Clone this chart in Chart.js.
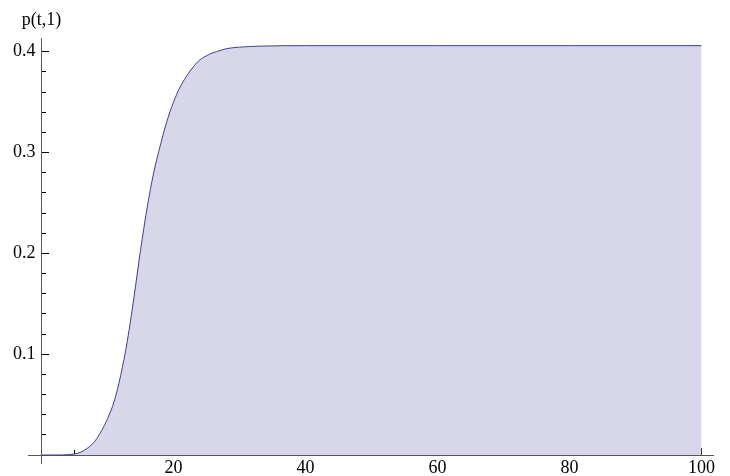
<!DOCTYPE html>
<html>
<head>
<meta charset="utf-8">
<script src="https://cdn.jsdelivr.net/npm/chart.js@4.4.0/dist/chart.umd.min.js"></script>
<style>
  body { margin: 0; background: #fff; }
  #wrap { width: 730px; height: 476px; }
</style>
</head>
<body>
<div id="wrap"><canvas id="plot"></canvas></div>
<script>
const tValues = [0, 2, 4, 5, 6, 7, 8, 9, 10, 11, 12, 13, 14, 15, 16, 17, 18, 19, 20, 21, 22, 23, 24, 25, 26, 27, 28, 30, 33, 40, 60, 80, 100];
const pValues = [0, 0, 0.0003, 0.001, 0.003, 0.007, 0.013, 0.023, 0.036, 0.053, 0.079, 0.113, 0.156, 0.203, 0.245, 0.280, 0.307, 0.331, 0.350, 0.365, 0.376, 0.385, 0.392, 0.396, 0.399, 0.401, 0.403, 0.4045, 0.4055, 0.406, 0.406, 0.406, 0.406];

const xMajorTicks = [20, 40, 60, 80, 100];
const xMinorTicks = [5, 10, 15, 20, 25, 30, 35, 40, 45, 50, 55, 60, 65, 70, 75, 80, 85, 90, 95, 100];
const yMajorTicks = [0.1, 0.2, 0.3, 0.4];
const yMinorTicks = [0.02, 0.04, 0.06, 0.08, 0.1, 0.12, 0.14, 0.16, 0.18, 0.2, 0.22, 0.24, 0.26, 0.28, 0.3, 0.32, 0.34, 0.36, 0.38, 0.4];
const yAxisLabel = 'p(t,1)';

const lineColor = 'rgb(61,61,153)';
const fillColor = 'rgb(215,215,233)';
const axisColor = 'rgb(85,85,85)';
const labelFont = { family: 'Liberation Serif', size: 18 };

const xRange = { min: -2.045, max: 101.74 };
const yRange = { min: -0.00793, max: 0.41359 };

function setTicks(list) {
  return function(scale) {
    scale.ticks = list.map(v => ({ value: v }));
  };
}

// axes sit on the origin, so they should not push the plot area around
function noSpace(scale) {
  if (scale.isHorizontal()) scale.height = 0; else scale.width = 0;
  scale.paddingTop = 0;
  scale.paddingBottom = 0;
  scale.paddingLeft = 0;
  scale.paddingRight = 0;
}

// label over the top of the y axis
const axisLabel = {
  id: 'axisLabel',
  afterDraw(chart) {
    let ctx = chart.ctx;
    let x0 = chart.scales.x.getPixelForValue(0);
    ctx.save();
    ctx.font = '18px "Liberation Serif"';
    ctx.fillStyle = '#000';
    ctx.textAlign = 'center';
    ctx.textBaseline = 'middle';
    ctx.fillText(yAxisLabel, x0, chart.chartArea.top - 18);
    ctx.restore();
  }
};

let ctx = document.getElementById('plot').getContext('2d');
let plot = new Chart(ctx, {
  type: 'line',
  data: {
    datasets: [{
      data: tValues.map((t, i) => ({ x: t, y: pValues[i] })),
      borderColor: lineColor,
      backgroundColor: fillColor,
      borderWidth: 1,
      fill: 'origin',
      pointRadius: 0,
      cubicInterpolationMode: 'monotone'
    }]
  },
  plugins: [axisLabel],
  options: {
    responsive: true,
    maintainAspectRatio: false,
    animation: false,
    layout: { padding: { left: 28, right: 17, top: 38, bottom: 13 } },
    plugins: {
      legend: { display: false },
      tooltip: { enabled: false }
    },
    scales: {
      x: {
        type: 'linear',
        min: xRange.min,
        max: xRange.max,
        position: { y: 0 },
        z: 1,
        afterBuildTicks: setTicks(xMajorTicks),
        afterFit: noSpace,
        border: { display: true, color: axisColor, width: 1 },
        grid: { drawOnChartArea: false, tickLength: -8, tickColor: '#000', tickWidth: 1 },
        ticks: { color: '#000', font: labelFont, padding: 10, maxRotation: 0, callback: v => String(v) }
      },
      xMinor: {
        type: 'linear',
        min: xRange.min,
        max: xRange.max,
        position: { y: 0 },
        z: 1,
        afterBuildTicks: setTicks(xMinorTicks),
        afterFit: noSpace,
        border: { display: false },
        grid: { drawOnChartArea: false, tickLength: -5, tickColor: '#000', tickWidth: 1 },
        ticks: { display: false }
      },
      y: {
        type: 'linear',
        min: yRange.min,
        max: yRange.max,
        position: { x: 0 },
        z: 1,
        afterBuildTicks: setTicks(yMajorTicks),
        afterFit: noSpace,
        border: { display: true, color: axisColor, width: 1 },
        grid: { drawOnChartArea: false, tickLength: -8, tickColor: '#000', tickWidth: 1 },
        // labels are drawn right on the axis, the trailing space keeps a gap
        ticks: { color: '#000', font: labelFont, callback: v => v.toFixed(1) + '\u2004' }
      },
      yMinor: {
        type: 'linear',
        min: yRange.min,
        max: yRange.max,
        position: { x: 0 },
        z: 1,
        afterBuildTicks: setTicks(yMinorTicks),
        afterFit: noSpace,
        border: { display: false },
        grid: { drawOnChartArea: false, tickLength: -5, tickColor: '#000', tickWidth: 1 },
        ticks: { display: false }
      }
    }
  }
});
</script>
</body>
</html>
